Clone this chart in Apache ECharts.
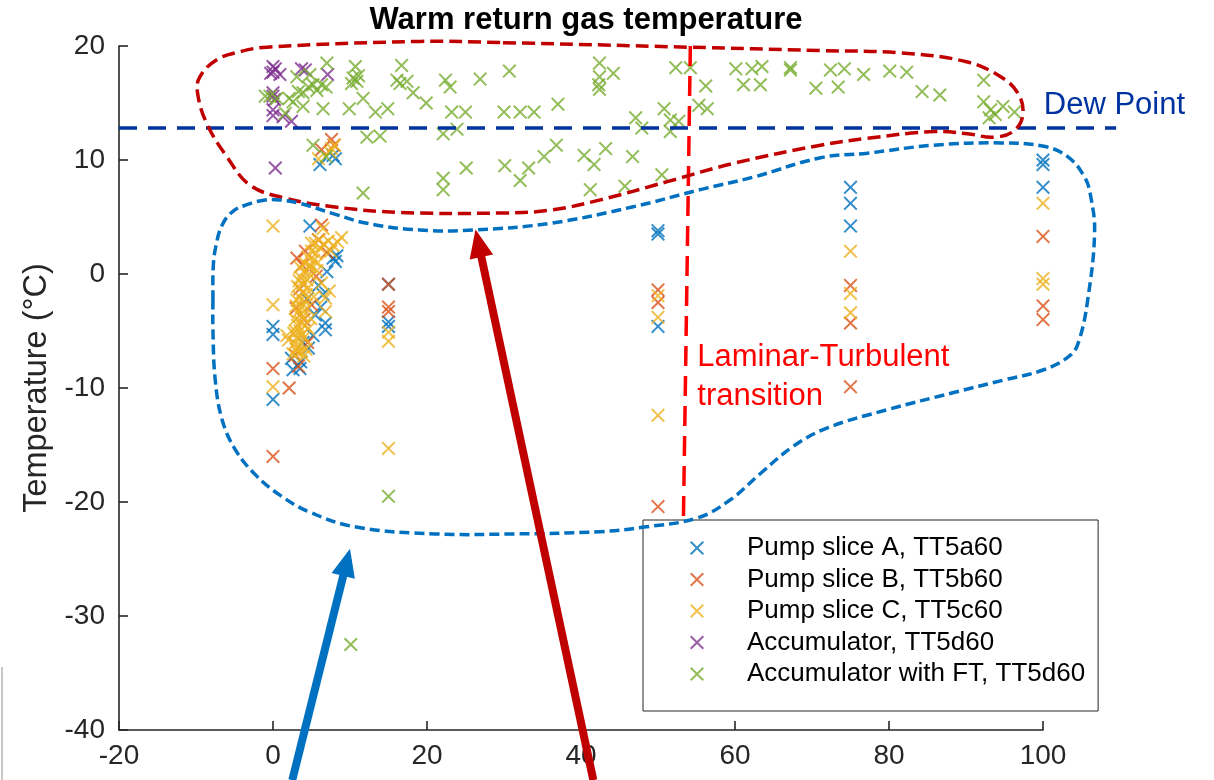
<!DOCTYPE html>
<html><head><meta charset="utf-8">
<script src="https://cdn.jsdelivr.net/npm/echarts@6/dist/echarts.min.js"></script>
<style>html,body{margin:0;padding:0;background:#fff}#c{width:1214px;height:780px}</style>
</head><body><div id="c"></div>
<script>
const FONT = '"Liberation Sans", Arial, Helvetica, sans-serif';
const seriesNames = ['Pump slice A, TT5a60','Pump slice B, TT5b60','Pump slice C, TT5c60','Accumulator, TT5d60','Accumulator with FT, TT5d60'];
const seriesColors = ['#0072BD','#D95319','#EDB120','#7E2F8E','#77AC30'];
const xTicks = {min:-20, max:100, interval:20};
const yTicks = {min:-40, max:20, interval:10};

const pumpA = [
 [0,-4.6],[0,-5.3],[0,-11.0],
 [4.8,4.2],[7.8,1.4],[8.1,1.1],[8.3,1.6],[5.9,-1.0],[6.8,-4.3],[6.8,-4.9],[4.6,-6.5],[3.6,-7.7],[2.4,-7.4],[2.6,-8.4],[3.5,-8.3],
 [5.5,-3.6],[6.2,-2.9],[7.0,0.2],[5.2,-5.4],[4.4,-2.2],[3.9,-6.0],[6.5,-1.8],
 [6.1,9.6],[8.1,10.1],[7.8,10.4],
 [15,-0.9],[15,-4.2],[15,-4.6],
 [50,3.8],[50,3.5],[50,-4.6],
 [75,7.6],[75,6.2],[75,4.2],
 [100,10.0],[100,9.6],[100,7.6]
];
const pumpB = [
 [0,-8.3],[0,-16.0],
 [6.3,4.3],[3.1,1.4],[5.9,3.0],[4.2,2.0],[3.5,-1.3],[5.0,-2.7],[2.9,-7.1],[3.3,-8.1],[2.1,-10.0],[4.0,-4.0],[5.6,-0.2],[3.8,0.8],[7.0,1.9],[4.5,-6.0],[3.0,-3.0],
 [7.6,11.8],[6.3,10.9],[7.9,11.3],
 [15,-0.9],[15,-2.9],[15,-3.3],
 [50,-1.4],[50,-2.5],[50,-20.4],
 [75,-1.0],[75,-4.3],[75,-9.9],
 [100,3.3],[100,-2.8],[100,-4.0]
];
const pumpC = [
 [0,4.2],[0,-2.7],[0,-9.9],[1.8,-5.4],
 [2.6,-7.0],[3.0,-6.6],[2.8,-6.1],[3.4,-6.3],[3.1,-5.6],[2.7,-5.2],[3.5,-5.0],[3.2,-4.5],[2.9,-4.0],[3.6,-4.2],[3.9,-3.7],[3.3,-3.3],
 [3.0,-2.8],[3.7,-2.9],[4.1,-2.4],[3.4,-2.0],[3.8,-1.6],[4.3,-1.8],[3.2,-1.1],[3.9,-0.9],[4.4,-0.5],[3.6,-0.3],[4.0,0.2],[4.7,0.0],
 [3.5,0.6],[4.2,0.9],[4.9,0.7],[5.3,1.2],[4.5,1.5],[5.0,2.0],[5.6,1.8],[6.1,2.3],[5.5,2.7],[6.6,2.6],[7.2,2.9],[7.8,2.5],[8.4,2.8],
 [8.9,3.2],[6.5,4.0],[5.0,2.7],[6.8,-2.1],[6.8,-3.3],[7.3,-1.5],[6.3,-0.8],[2.0,-5.8],[4.6,-4.8],[4.0,-5.6],[3.7,-6.8],
 [3.2,-6.9],[3.8,-5.3],[4.2,-4.5],[2.9,-5.0],[3.5,-3.6],[4.4,-3.0],[3.1,-2.3],[4.6,-1.2],[3.4,-0.6],[4.8,0.6],[5.8,1.0],[6.0,3.0],
 [7.5,2.0],[4.0,-7.2],[4.3,-6.6],[4.9,-3.9],[5.3,-2.0],[5.7,0.3],
 [7.6,11.0],[5.9,10.1],[7.4,10.7],[8.0,11.3],
 [15,-5.1],[15,-5.9],[15,-15.3],
 [50,-1.9],[50,-3.8],[50,-12.4],
 [75,2.0],[75,-1.7],[75,-3.4],
 [100,6.2],[100,-0.4],[100,-0.9]
];
const accum = [
 [0,18.2],[0,17.7],[-0.3,17.6],[0.3,18.0],[0.9,17.5],[0,15.9],[0,15.6],[0.2,15.3],[0,14.4],[0,13.9],[1.3,13.8],[2.4,13.4],
 [0.3,9.3],[3.7,18.0],[4.2,17.9],[7.1,17.5]
];
const accumFT = [
 [-1.0,15.6],[-0.4,15.6],[0.5,15.4],[1.6,14.1],[2.1,15.4],[2.6,15.1],[3.1,17.3],[3.3,16.0],[3.9,15.9],[3.9,14.7],[4.8,17.5],[4.6,16.4],
 [5.2,16.6],[5.7,16.1],[6.3,16.6],[6.9,16.4],[7.0,18.5],[6.5,14.5],[10.7,18.2],[10.4,17.2],[10.9,16.9],[10.2,16.7],[11.1,17.4],[11.7,15.4],
 [9.9,14.5],[13.3,14.2],[14.9,14.5],[16.7,18.3],[16.1,17.0],[16.5,16.7],[17.4,16.9],[18.2,15.9],[19.9,15.0],[12.2,12.0],[13.9,12.1],
 [5.2,11.3],[6.9,10.3],[11.7,7.1],
 [22.4,17.0],[23.0,16.4],[26.9,17.1],[30.7,17.8],[23.2,14.2],[25.0,14.2],[30.0,14.2],[32.1,14.2],[33.9,14.2],[37.0,14.9],[22.1,12.3],
 [23.9,12.7],[42.4,18.5],[42.4,17.3],[44.2,17.6],[42.3,16.6],[42.4,16.2],[52.3,18.1],[54.2,18.1],[56.2,16.5],[50.8,14.5],[47.1,13.7],
 [47.9,12.8],[51.6,13.5],[52.7,13.4],[51.6,12.5],[55.3,14.8],[56.4,14.5],
 [36.8,11.3],[35.2,10.3],[33.2,9.3],[32.1,8.2],[30.1,9.5],[25.1,9.3],[22.1,8.4],[22.1,7.4],[40.4,10.4],[41.7,9.6],[43.2,11.0],
 [46.7,10.3],[41.2,7.4],[45.7,7.7],[50.5,8.7],
 [60.1,18.0],[62.2,18.0],[63.5,18.2],[67.2,17.9],[67.2,18.1],[72.4,17.9],[74.2,18.0],[76.7,17.5],[80.1,17.8],[82.3,17.7],[61.1,16.6],
 [63.3,16.6],[70.5,16.3],[73.4,16.4],[84.3,16.0],[86.6,15.7],[92.3,17.0],[92.3,15.1],[93.2,14.4],[94.8,14.7],[96.3,14.2],[93.0,13.7],[93.8,14.0],
 [15,-19.5],[10.1,-32.5]
];

// annotations (data coordinates)
const dewPointY = 12.8;
const dewLine = [[-20,dewPointY],[109.5,dewPointY]];
const transitionLine = [[54.2,20],[53.3,-21.6]];
const warmLoop = [
 [29.5,20.3],[19.1,20.4],[-0.8,19.9],[-4.3,19.5],[-7.3,18.8],[-9.5,17.3],[-9.8,15.9],[-8.6,13.2],[-6.0,10.3],[-3.0,7.8],[1.3,6.7],
 [7.8,5.9],[16.5,5.4],[29.5,5.35],[36.0,5.6],[42.5,6.5],[51.2,8.1],[59.8,9.7],[71.1,11.3],[77.2,11.9],[85.9,12.5],[90.2,12.3],
 [93.7,12.0],[96.3,12.6],[97.4,14.1],[96.7,15.9],[94.5,17.3],[90.2,18.6],[81.5,19.4],[71.1,19.6],[53.8,19.9]
];
const coldLoop = [
 [-7.8,-2.3],[-7.76,0.64],[-7.4,2.5],[-6.6,4.3],[-5.2,5.5],[-3.3,6.1],[-1.0,6.5],[0.9,6.5],[3.5,6.2],[7.8,5.3],[12.2,4.45],[19.1,3.86],[26.0,3.86],[36.0,4.45],
 [46.8,5.9],[55.5,7.4],[62.4,8.5],[71.1,10.2],[77.2,10.6],[85.8,11.3],[94.5,11.5],[100.1,11.2],[103.2,10.3],[105.4,8.5],[106.2,6.8],
 [106.7,3.6],[105.8,-2.3],[104.7,-5.8],[103.6,-7.1],[100.1,-8.4],[94.9,-9.3],[88.4,-10.4],[79.8,-11.9],[72.0,-13.5],[67.6,-15.1],
 [63.3,-17.5],[59.4,-19.8],[55.1,-21.4],[48.2,-22.2],[42.5,-22.6],[31.3,-22.8],[21.1,-22.8],[10.8,-22.2],[4.8,-20.9],
 [0.9,-19.4],[-2.3,-17.6],[-4.9,-15.4],[-6.6,-12.8],[-7.5,-9.3],[-7.8,-4.9]
];
const arrowBlue = {from:[2.5,-44.4], to:[10.0,-24.1]};
const arrowRed = {from:[41.6,-44.4], to:[26.3,3.9]};
const dewLabelPos = [100.1,14.8];
const transitionLabelPos = [55.1,-5.6];

const xPath = 'path://M0,1.4L1.4,0L7,5.6L12.6,0L14,1.4L8.4,7L14,12.6L12.6,14L7,8.4L1.4,14L0,12.6L5.6,7Z';
const seriesData = [pumpA,pumpB,pumpC,accum,accumFT];

const chart = echarts.init(document.getElementById('c'), null, {renderer:'canvas'});
const axisColor = '#262626';

const scatterSeries = seriesData.map((d,i)=>({
  type:'scatter', name:seriesNames[i], data:d, symbol:xPath, symbolSize:14,
  itemStyle:{color:seriesColors[i]}, z:2, emphasis:{disabled:true}
}));

chart.setOption({
  animation:false,
  backgroundColor:'#fff',
  title:{text:'Warm return gas temperature', left:581, top:0, textAlign:'center',
    textStyle:{fontSize:31, fontWeight:'bold', color:'#000', fontFamily:FONT}},
  grid:{left:119, right:171, top:46, bottom:50, containLabel:false},
  legend:{data:seriesNames, orient:'vertical', left:643, top:520, icon:xPath, itemWidth:14, itemHeight:14,
    itemGap:3.5, padding:[14,13,23,47], borderColor:'#262626', borderWidth:1, backgroundColor:'#fff',
    textStyle:{fontSize:26, fontFamily:FONT, color:'#000', lineHeight:28, padding:[0,0,0,38]}, selectedMode:false, z:10},
  xAxis:{type:'value', min:xTicks.min, max:xTicks.max, interval:xTicks.interval,
    axisLine:{onZero:false, lineStyle:{color:axisColor, width:1.6}}, axisTick:{inside:true, length:9, lineStyle:{color:axisColor, width:1.6}},
    axisLabel:{fontSize:28, color:axisColor, fontFamily:FONT, margin:12}, splitLine:{show:false}},
  yAxis:{type:'value', min:yTicks.min, max:yTicks.max, interval:yTicks.interval,
    name:'Temperature (°C)', nameLocation:'middle', nameGap:65, nameRotate:90,
    nameTextStyle:{fontSize:32.5, color:axisColor, fontFamily:FONT},
    axisLine:{onZero:false, lineStyle:{color:axisColor, width:1.6}}, axisTick:{inside:true, length:9, lineStyle:{color:axisColor, width:1.6}},
    axisLabel:{fontSize:28, color:axisColor, fontFamily:FONT, margin:14}, splitLine:{show:false}},
  series: scatterSeries
});

const toPx = p => chart.convertToPixel({gridIndex:0}, p);
function pathGraphic(type, pts, color, width, dash, smooth){
  return {type, silent:true, z:50, shape:{points:pts.map(toPx), smooth},
    style:{stroke:color, lineWidth:width, lineDash:dash, fill:null}};
}
function arrowGraphic(a,color){
  const p0 = toPx(a.from), p1 = toPx(a.to);
  const dx=p1[0]-p0[0], dy=p1[1]-p0[1], L=Math.hypot(dx,dy), ux=dx/L, uy=dy/L;
  const hl=28, hw=12;
  const bx=p1[0]-ux*hl, by=p1[1]-uy*hl;
  return [
    {type:'line', silent:true, z:100, shape:{x1:p0[0],y1:p0[1],x2:bx+ux*3,y2:by+uy*3}, style:{stroke:color, lineWidth:8}},
    {type:'polygon', silent:true, z:100, shape:{points:[[p1[0],p1[1]],[bx-uy*hw,by+ux*hw],[bx+uy*hw,by-ux*hw]]}, style:{fill:color}}
  ];
}
const dewPx = toPx(dewLabelPos);
const trPx = toPx(transitionLabelPos);
chart.setOption({graphic:[
  pathGraphic('polyline', dewLine, '#0033a0', 3.5, [18,11], 0),
  pathGraphic('polyline', transitionLine, '#ff0000', 3.5, [20,10], 0),
  pathGraphic('polygon', warmLoop, '#c00000', 3.5, [13,6], 0.4),
  pathGraphic('polygon', coldLoop, '#0070c0', 3.5, [10,5], 0.4),
  ...arrowGraphic(arrowBlue,'#0070c0'),
  ...arrowGraphic(arrowRed,'#c00000'),
  {type:'text', silent:true, z:100, x:dewPx[0], y:dewPx[1], style:{text:'Dew Point', fill:'#0033a0', fontSize:31, fontFamily:FONT, align:'left', verticalAlign:'middle'}},
  {type:'text', silent:true, z:100, x:trPx[0], y:trPx[1], style:{text:'Laminar-Turbulent\ntransition', fill:'#ff0000', fontSize:31, lineHeight:39, fontFamily:FONT, align:'left', verticalAlign:'top'}},
  {type:'line', silent:true, z:100, shape:{x1:2,y1:667,x2:2,y2:780}, style:{stroke:'#c8c8c8', lineWidth:2}}
]});
</script></body></html>
